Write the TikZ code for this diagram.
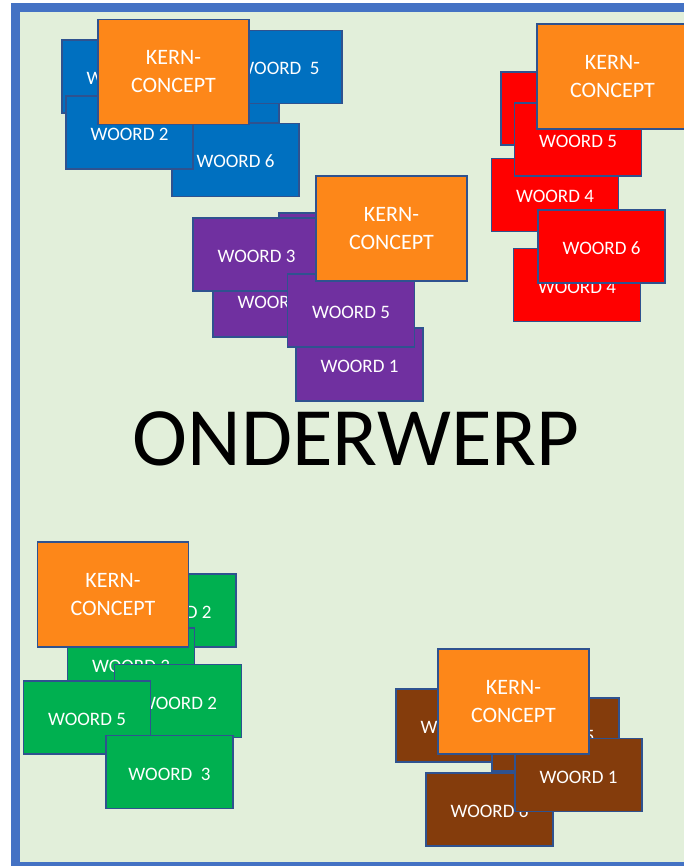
\documentclass[tikz,border=0pt]{standalone}
\usepackage{fontspec}
\setmainfont{Carlito}
\usepackage{tikz}

\definecolor{kaderblauw}{HTML}{4472C4}
\definecolor{achtergrond}{HTML}{E2EFDA}
\definecolor{rand}{HTML}{2F528F}
\definecolor{blauw}{HTML}{0070C0}
\definecolor{rood}{HTML}{FF0000}
\definecolor{paars}{HTML}{7030A0}
\definecolor{groen}{HTML}{00B050}
\definecolor{bruin}{HTML}{843C0C}
\definecolor{oranje}{HTML}{FD8719}

\tikzset{
    woord/.style={draw=rand, line width=1.5pt, minimum width=127pt, minimum height=73pt, inner sep=0pt, text height=16pt, text depth=0pt, text=white, font=\fontsize{19}{23}\selectfont},
    kern/.style={draw=rand, line width=1.5pt, fill=oranje, minimum width=151pt, minimum height=105pt, inner sep=0pt, align=center, text=white, font=\fontsize{22}{28}\selectfont}
}

\begin{document}
\begin{tikzpicture}[x=1pt, y=-1pt]
                    \useasboundingbox (0,0) rectangle (683,866);
                    % achtergrond met kader
                    \fill [achtergrond] (15.5,7.5) rectangle (720,880);
                    \draw [kaderblauw, line width=8.5pt] (15.5,7.5) rectangle (720,866);
                    % blauw cluster
                    \node at (125.5,76.5) [woord, fill=blauw] (blauw a) {WOORD 4};
                    \node at (215.5,86.5) [woord, fill=blauw] (blauw b) {WOORD 1};
                    \node at (278.5,67) [woord, fill=blauw] (blauw c) {WOORD~~5};
                    \node at (235.5,160) [woord, fill=blauw] (blauw d) {WOORD 6};
                    \node at (129.5,132.5) [woord, fill=blauw] (blauw e) {WOORD 2};
                    \node at (173.5,72) [kern] (kern blauw) {KERN-\\CONCEPT};
                    % rood cluster
                    \node at (564.5,108.5) [woord, fill=rood] (rood a) {};
                    \node at (555,195) [woord, fill=rood] (rood b) {WOORD 4};
                    \node at (578,139.5) [woord, fill=rood] (rood c) {WOORD 5};
                    \node at (612.5,76.5) [kern] (kern rood) {KERN-\\CONCEPT};
                    \node at (577,285) [woord, fill=rood] (rood d) {WOORD 4};
                    \node at (601.5,246.5) [woord, fill=rood] (rood e) {WOORD 6};
                    % paars cluster
                    \node at (342.5,249.5) [woord, fill=paars] (paars a) {};
                    \node at (276.5,300.5) [woord, fill=paars] (paars b) {WOORD 2};
                    \node at (256.5,254.5) [woord, fill=paars] (paars c) {WOORD 3};
                    \node at (359.5,364.5) [woord, fill=paars] (paars d) {WOORD 1};
                    \node at (351,310.5) [woord, fill=paars] (paars e) {WOORD 5};
                    \node at (391.5,228.5) [kern] (kern paars) {KERN-\\CONCEPT};
                    % onderwerp in het midden
                    \node at (356,439) [font=\fontsize{83}{90}\selectfont] (onderwerp) {ONDERWERP};
                    % groen cluster
                    \node at (172.5,610.5) [woord, fill=groen] (groen a) {WOORD 2};
                    \node at (131,664.5) [woord, fill=groen] (groen b) {WOORD 3};
                    \node at (113,594.5) [kern] (kern groen) {KERN-\\CONCEPT};
                    \node at (178,701) [woord, fill=groen] (groen c) {WOORD 2};
                    \node at (87,717.5) [woord, fill=groen] (groen d) {WOORD 5};
                    \node at (169.5,772) [woord, fill=groen] (groen e) {WOORD~~3};
                    % bruin cluster
                    \node at (459.5,725.5) [woord, fill=bruin] (bruin a) {WOORD 2};
                    \node at (555.5,734.5) [woord, fill=bruin] (bruin b) {WOORD 5};
                    \node at (489.5,809.5) [woord, fill=bruin] (bruin c) {WOORD 6};
                    \node at (578.5,775) [woord, fill=bruin] (bruin d) {WOORD 1};
                    \node at (513.5,701.5) [kern] (kern bruin) {KERN-\\CONCEPT};
\end{tikzpicture}
\end{document}
